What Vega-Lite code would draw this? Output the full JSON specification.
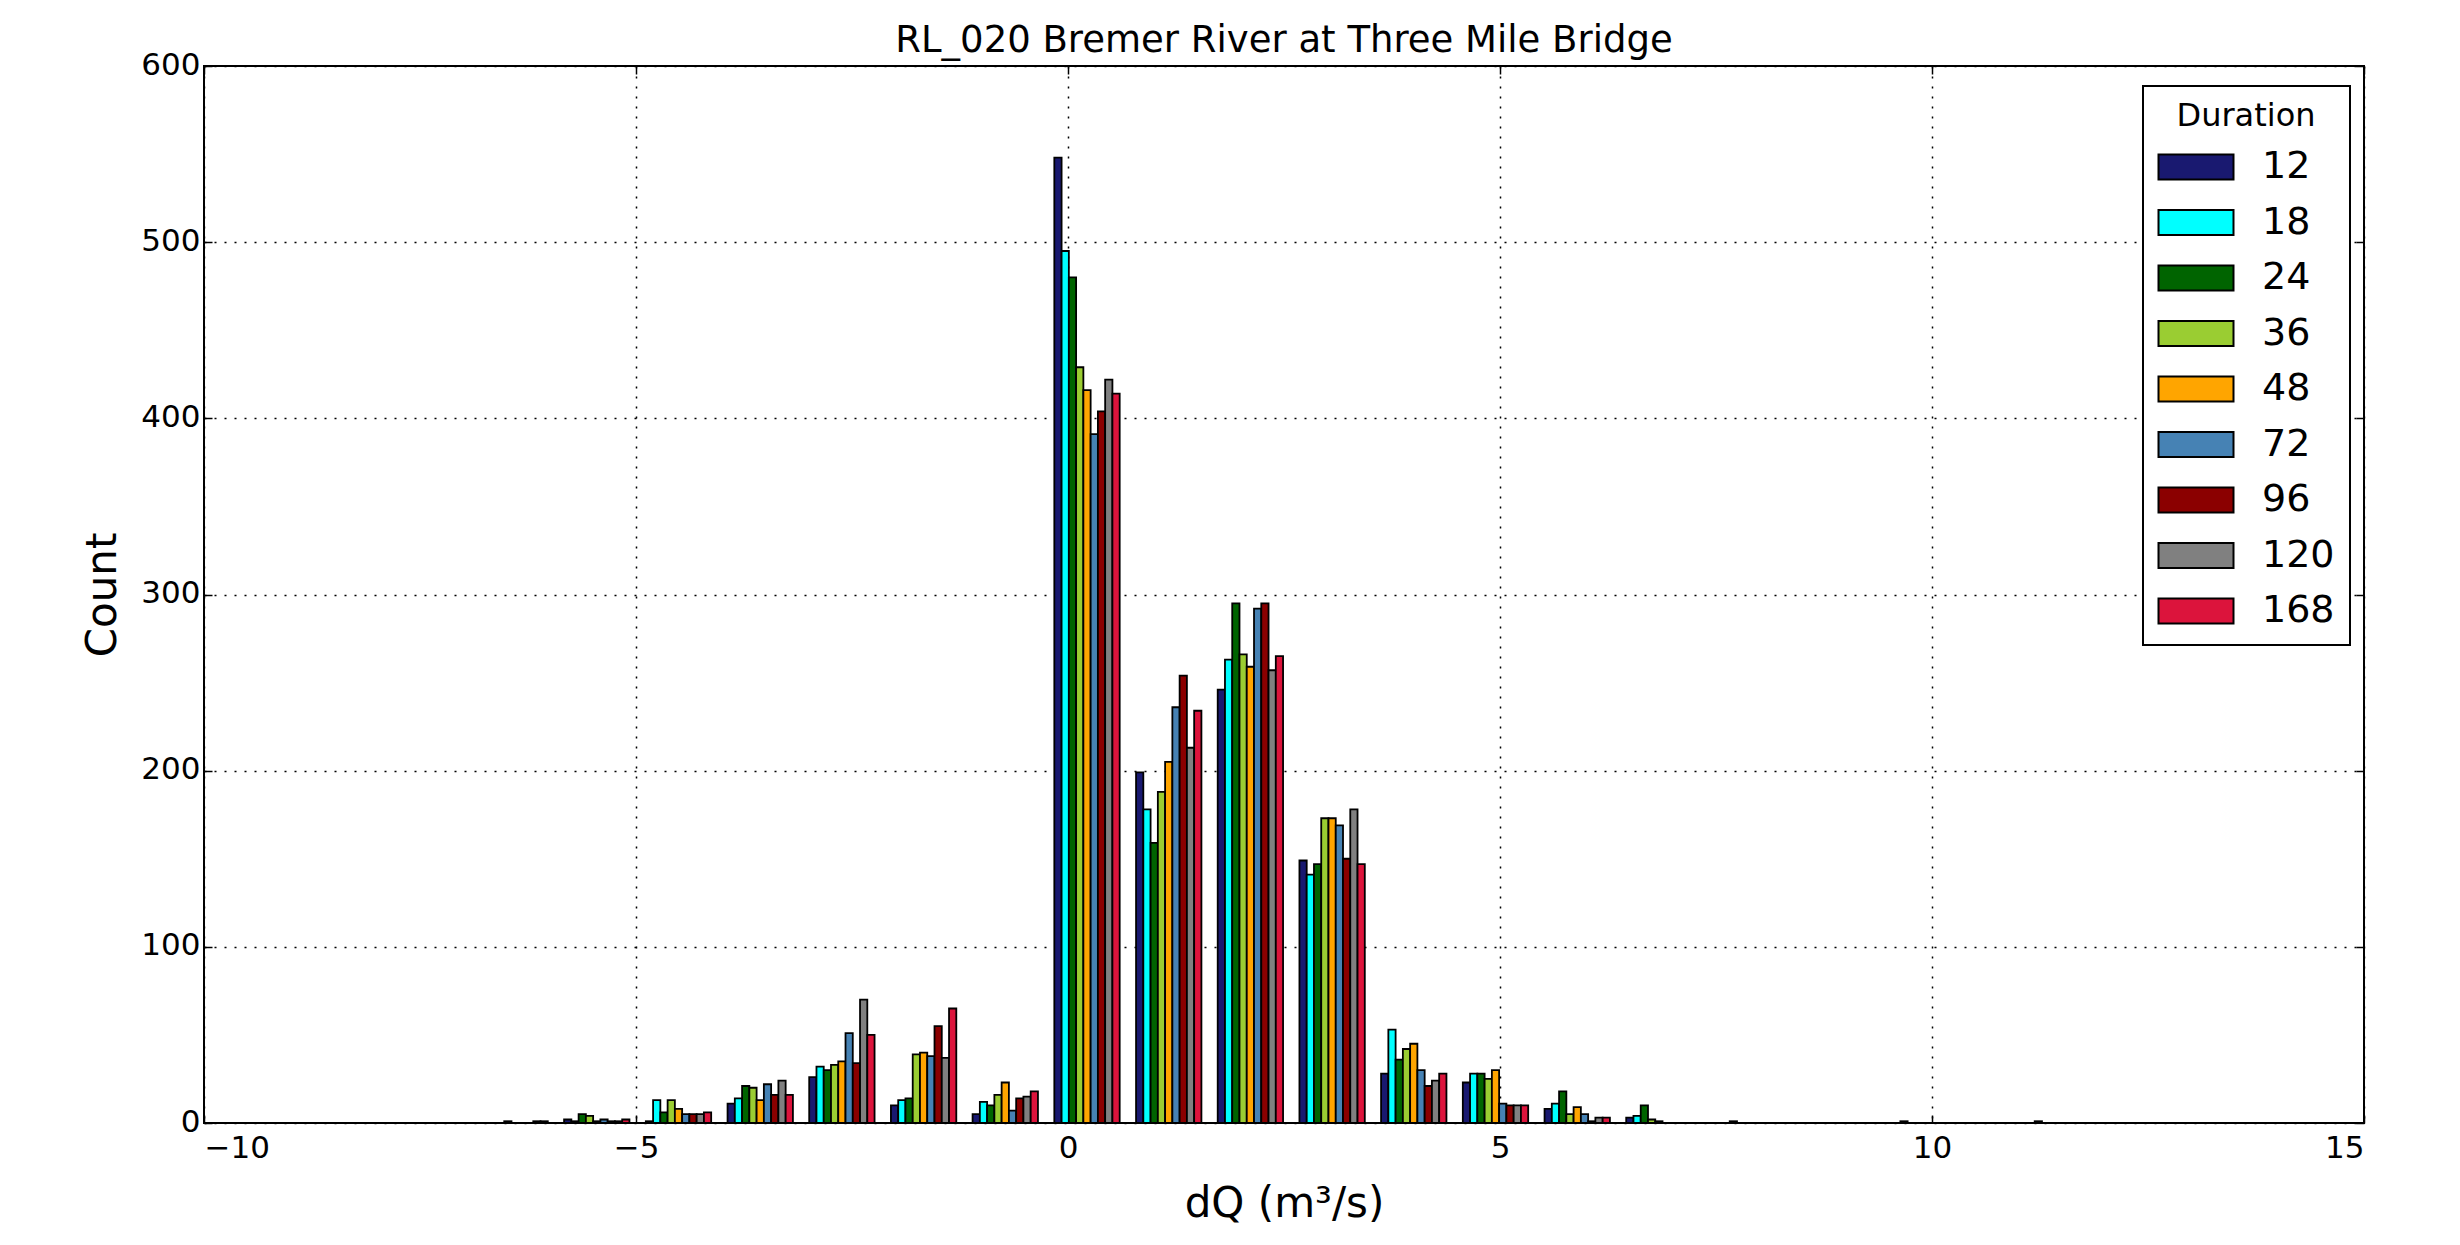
{
"$schema": "https://vega.github.io/schema/vega-lite/v6.json",
"width": 2160, "height": 1057,
"autosize": "none",
"padding": {"left": 204, "top": 66, "right": 96, "bottom": 122},
"background": "white",
"title": {"text": "RL_020 Bremer River at Three Mile Bridge", "fontSize": 37, "font": "DejaVu Sans", "fontWeight": "normal", "color": "black", "offset": -11},
"data": {"values": [
{"dQ":-6.399,"Duration":12,"Count":0},{"dQ":-6.399,"Duration":18,"Count":0},{"dQ":-6.399,"Duration":24,"Count":0},{"dQ":-6.399,"Duration":36,"Count":1},{"dQ":-6.399,"Duration":48,"Count":0},{"dQ":-6.399,"Duration":72,"Count":0},{"dQ":-6.399,"Duration":96,"Count":0},{"dQ":-6.399,"Duration":120,"Count":1},{"dQ":-6.399,"Duration":168,"Count":1},
{"dQ":-5.454,"Duration":12,"Count":2},{"dQ":-5.454,"Duration":18,"Count":1},{"dQ":-5.454,"Duration":24,"Count":5},{"dQ":-5.454,"Duration":36,"Count":4},{"dQ":-5.454,"Duration":48,"Count":1},{"dQ":-5.454,"Duration":72,"Count":2},{"dQ":-5.454,"Duration":96,"Count":1},{"dQ":-5.454,"Duration":120,"Count":1},{"dQ":-5.454,"Duration":168,"Count":2},
{"dQ":-4.508,"Duration":12,"Count":1},{"dQ":-4.508,"Duration":18,"Count":13},{"dQ":-4.508,"Duration":24,"Count":6},{"dQ":-4.508,"Duration":36,"Count":13},{"dQ":-4.508,"Duration":48,"Count":8},{"dQ":-4.508,"Duration":72,"Count":5},{"dQ":-4.508,"Duration":96,"Count":5},{"dQ":-4.508,"Duration":120,"Count":5},{"dQ":-4.508,"Duration":168,"Count":6},
{"dQ":-3.562,"Duration":12,"Count":11},{"dQ":-3.562,"Duration":18,"Count":14},{"dQ":-3.562,"Duration":24,"Count":21},{"dQ":-3.562,"Duration":36,"Count":20},{"dQ":-3.562,"Duration":48,"Count":13},{"dQ":-3.562,"Duration":72,"Count":22},{"dQ":-3.562,"Duration":96,"Count":16},{"dQ":-3.562,"Duration":120,"Count":24},{"dQ":-3.562,"Duration":168,"Count":16},
{"dQ":-2.617,"Duration":12,"Count":26},{"dQ":-2.617,"Duration":18,"Count":32},{"dQ":-2.617,"Duration":24,"Count":30},{"dQ":-2.617,"Duration":36,"Count":33},{"dQ":-2.617,"Duration":48,"Count":35},{"dQ":-2.617,"Duration":72,"Count":51},{"dQ":-2.617,"Duration":96,"Count":34},{"dQ":-2.617,"Duration":120,"Count":70},{"dQ":-2.617,"Duration":168,"Count":50},
{"dQ":-1.671,"Duration":12,"Count":10},{"dQ":-1.671,"Duration":18,"Count":13},{"dQ":-1.671,"Duration":24,"Count":14},{"dQ":-1.671,"Duration":36,"Count":39},{"dQ":-1.671,"Duration":48,"Count":40},{"dQ":-1.671,"Duration":72,"Count":38},{"dQ":-1.671,"Duration":96,"Count":55},{"dQ":-1.671,"Duration":120,"Count":37},{"dQ":-1.671,"Duration":168,"Count":65},
{"dQ":-0.726,"Duration":12,"Count":5},{"dQ":-0.726,"Duration":18,"Count":12},{"dQ":-0.726,"Duration":24,"Count":10},{"dQ":-0.726,"Duration":36,"Count":16},{"dQ":-0.726,"Duration":48,"Count":23},{"dQ":-0.726,"Duration":72,"Count":7},{"dQ":-0.726,"Duration":96,"Count":14},{"dQ":-0.726,"Duration":120,"Count":15},{"dQ":-0.726,"Duration":168,"Count":18},
{"dQ":0.22,"Duration":12,"Count":548},{"dQ":0.22,"Duration":18,"Count":495},{"dQ":0.22,"Duration":24,"Count":480},{"dQ":0.22,"Duration":36,"Count":429},{"dQ":0.22,"Duration":48,"Count":416},{"dQ":0.22,"Duration":72,"Count":391},{"dQ":0.22,"Duration":96,"Count":404},{"dQ":0.22,"Duration":120,"Count":422},{"dQ":0.22,"Duration":168,"Count":414},
{"dQ":1.166,"Duration":12,"Count":199},{"dQ":1.166,"Duration":18,"Count":178},{"dQ":1.166,"Duration":24,"Count":159},{"dQ":1.166,"Duration":36,"Count":188},{"dQ":1.166,"Duration":48,"Count":205},{"dQ":1.166,"Duration":72,"Count":236},{"dQ":1.166,"Duration":96,"Count":254},{"dQ":1.166,"Duration":120,"Count":213},{"dQ":1.166,"Duration":168,"Count":234},
{"dQ":2.111,"Duration":12,"Count":246},{"dQ":2.111,"Duration":18,"Count":263},{"dQ":2.111,"Duration":24,"Count":295},{"dQ":2.111,"Duration":36,"Count":266},{"dQ":2.111,"Duration":48,"Count":259},{"dQ":2.111,"Duration":72,"Count":292},{"dQ":2.111,"Duration":96,"Count":295},{"dQ":2.111,"Duration":120,"Count":257},{"dQ":2.111,"Duration":168,"Count":265},
{"dQ":3.057,"Duration":12,"Count":149},{"dQ":3.057,"Duration":18,"Count":141},{"dQ":3.057,"Duration":24,"Count":147},{"dQ":3.057,"Duration":36,"Count":173},{"dQ":3.057,"Duration":48,"Count":173},{"dQ":3.057,"Duration":72,"Count":169},{"dQ":3.057,"Duration":96,"Count":150},{"dQ":3.057,"Duration":120,"Count":178},{"dQ":3.057,"Duration":168,"Count":147},
{"dQ":4.002,"Duration":12,"Count":28},{"dQ":4.002,"Duration":18,"Count":53},{"dQ":4.002,"Duration":24,"Count":36},{"dQ":4.002,"Duration":36,"Count":42},{"dQ":4.002,"Duration":48,"Count":45},{"dQ":4.002,"Duration":72,"Count":30},{"dQ":4.002,"Duration":96,"Count":21},{"dQ":4.002,"Duration":120,"Count":24},{"dQ":4.002,"Duration":168,"Count":28},
{"dQ":4.948,"Duration":12,"Count":23},{"dQ":4.948,"Duration":18,"Count":28},{"dQ":4.948,"Duration":24,"Count":28},{"dQ":4.948,"Duration":36,"Count":25},{"dQ":4.948,"Duration":48,"Count":30},{"dQ":4.948,"Duration":72,"Count":11},{"dQ":4.948,"Duration":96,"Count":10},{"dQ":4.948,"Duration":120,"Count":10},{"dQ":4.948,"Duration":168,"Count":10},
{"dQ":5.894,"Duration":12,"Count":8},{"dQ":5.894,"Duration":18,"Count":11},{"dQ":5.894,"Duration":24,"Count":18},{"dQ":5.894,"Duration":36,"Count":5},{"dQ":5.894,"Duration":48,"Count":9},{"dQ":5.894,"Duration":72,"Count":5},{"dQ":5.894,"Duration":96,"Count":1},{"dQ":5.894,"Duration":120,"Count":3},{"dQ":5.894,"Duration":168,"Count":3},
{"dQ":6.839,"Duration":12,"Count":3},{"dQ":6.839,"Duration":18,"Count":4},{"dQ":6.839,"Duration":24,"Count":10},{"dQ":6.839,"Duration":36,"Count":2},{"dQ":6.839,"Duration":48,"Count":1},{"dQ":6.839,"Duration":72,"Count":0},{"dQ":6.839,"Duration":96,"Count":0},{"dQ":6.839,"Duration":120,"Count":0},{"dQ":6.839,"Duration":168,"Count":0},
{"dQ":7.785,"Duration":12,"Count":0},{"dQ":7.785,"Duration":18,"Count":0},{"dQ":7.785,"Duration":24,"Count":0},{"dQ":7.785,"Duration":36,"Count":1},{"dQ":7.785,"Duration":48,"Count":0},{"dQ":7.785,"Duration":72,"Count":0},{"dQ":7.785,"Duration":96,"Count":0},{"dQ":7.785,"Duration":120,"Count":0},{"dQ":7.785,"Duration":168,"Count":0},
{"dQ":8.73,"Duration":12,"Count":0},{"dQ":8.73,"Duration":18,"Count":0},{"dQ":8.73,"Duration":24,"Count":0},{"dQ":8.73,"Duration":36,"Count":0},{"dQ":8.73,"Duration":48,"Count":0},{"dQ":8.73,"Duration":72,"Count":0},{"dQ":8.73,"Duration":96,"Count":0},{"dQ":8.73,"Duration":120,"Count":0},{"dQ":8.73,"Duration":168,"Count":0},
{"dQ":9.676,"Duration":12,"Count":0},{"dQ":9.676,"Duration":18,"Count":0},{"dQ":9.676,"Duration":24,"Count":0},{"dQ":9.676,"Duration":36,"Count":0},{"dQ":9.676,"Duration":48,"Count":1},{"dQ":9.676,"Duration":72,"Count":0},{"dQ":9.676,"Duration":96,"Count":0},{"dQ":9.676,"Duration":120,"Count":0},{"dQ":9.676,"Duration":168,"Count":0},
{"dQ":10.622,"Duration":12,"Count":0},{"dQ":10.622,"Duration":18,"Count":0},{"dQ":10.622,"Duration":24,"Count":0},{"dQ":10.622,"Duration":36,"Count":0},{"dQ":10.622,"Duration":48,"Count":0},{"dQ":10.622,"Duration":72,"Count":0},{"dQ":10.622,"Duration":96,"Count":0},{"dQ":10.622,"Duration":120,"Count":0},{"dQ":10.622,"Duration":168,"Count":0},
{"dQ":11.567,"Duration":12,"Count":1},{"dQ":11.567,"Duration":18,"Count":0},{"dQ":11.567,"Duration":24,"Count":0},{"dQ":11.567,"Duration":36,"Count":0},{"dQ":11.567,"Duration":48,"Count":0},{"dQ":11.567,"Duration":72,"Count":0},{"dQ":11.567,"Duration":96,"Count":0},{"dQ":11.567,"Duration":120,"Count":0},{"dQ":11.567,"Duration":168,"Count":0}
]},
"transform": [
{"calculate": "indexof([12,18,24,36,48,72,96,120,168], datum.Duration)", "as": "j"},
{"calculate": "datum.dQ - 0.3783 + datum.j * 0.08405", "as": "xa"},
{"calculate": "datum.xa + 0.08405", "as": "xb"}
],
"layer": [
{
"mark": {"type": "bar", "stroke": "black", "strokeWidth": 1.8, "opacity": 1},
"encoding": {
"x": {"field": "xa", "type": "quantitative", "scale": {"domain": [-10, 15], "nice": false, "zero": false},
"axis": {"orient": "bottom", "values": [-10,-5,0,5,10,15], "title": "dQ (m³/s)", "labelExpr": "replace(datum.label, '-', '−')"}},
"x2": {"field": "xb"},
"y": {"field": "Count", "type": "quantitative", "stack": null, "scale": {"domain": [0, 600], "nice": false},
"axis": {"orient": "left", "values": [0,100,200,300,400,500,600], "title": "Count", "labelOffset": -1}},
"y2": {"datum": 0},
"color": {"field": "Duration", "type": "ordinal",
"scale": {"domain": [12,18,24,36,48,72,96,120,168], "range": ["#191970","#00FFFF","#006400","#9ACD32","#FFA500","#4682B4","#8B0000","#808080","#DC143C"]},
"legend": {"title": "Duration"}}
}
},
{
"mark": {"type": "point", "opacity": 0},
"encoding": {
"x": {"field": "xa", "type": "quantitative", "axis": {"orient": "top", "values": [-10,-5,0,5,10,15], "labels": false, "grid": false, "title": null}},
"y": {"field": "Count", "type": "quantitative", "axis": {"orient": "right", "values": [0,100,200,300,400,500,600], "labels": false, "grid": false, "title": null}}
}
}
],
"resolve": {"axis": {"x": "independent", "y": "independent"}},
"config": {
"font": "DejaVu Sans",
"view": {"stroke": "black", "strokeWidth": 2},
"axis": {"domain": false, "grid": true, "gridColor": "black", "gridDash": [2, 8], "gridWidth": 1.5, "gridOpacity": 1,
"tickColor": "black", "tickSize": -8, "tickWidth": 1.5, "labelFont": "DejaVu Sans", "labelFontSize": 31, "labelColor": "black", "labelPadding": 12,
"titleFont": "DejaVu Sans", "titleFontSize": 42, "titleFontWeight": "normal", "titleColor": "black"},
"axisX": {"titlePadding": 20, "labelPadding": 18},
"axisY": {"titlePadding": 16},
"legend": {"orient": "none", "legendX": 1939, "legendY": 20, "titleFont": "DejaVu Sans", "titleFontSize": 32, "titleFontWeight": "normal", "titleColor": "black", "titleAnchor": "middle",
"labelFont": "DejaVu Sans", "labelFontSize": 38, "labelColor": "black", "labelAlign": "left",
"symbolType": "M-3,-1H3V1H-3Z", "symbolSize": 625, "symbolOffset": 19, "symbolStrokeColor": "black", "symbolStrokeWidth": 2, "symbolOpacity": 1,
"strokeColor": "black", "strokeWidth": 2, "fillColor": "white", "padding": 15, "rowPadding": 17.5, "labelOffset": 47, "titlePadding": 15}
}
}
